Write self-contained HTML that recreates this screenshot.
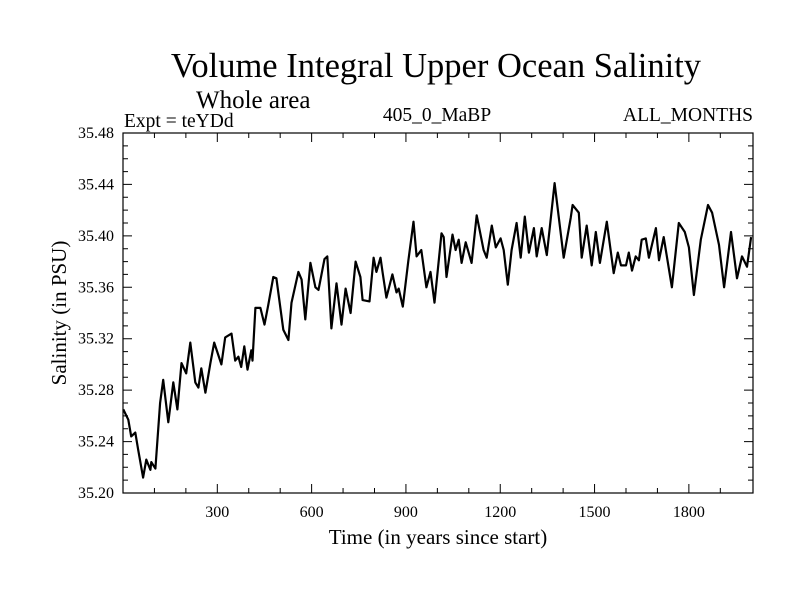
<!DOCTYPE html>
<html><head><meta charset="utf-8"><style>
body{margin:0;background:#fff}
svg text{font-family:"Liberation Serif",serif;fill:#000}
</style></head><body>
<svg id="chart" width="800" height="600" viewBox="0 0 800 600" xmlns="http://www.w3.org/2000/svg">
<rect width="800" height="600" fill="#fff"/>
<text x="436" y="77" font-size="34.5" text-anchor="middle">Volume Integral Upper Ocean Salinity</text>
<text x="196" y="108" font-size="25">Whole area</text>
<text x="124" y="127" font-size="19.5">Expt = teYDd</text>
<text x="437" y="121" font-size="19.5" text-anchor="middle">405_0_MaBP</text>
<text x="753" y="121" font-size="19.5" text-anchor="end">ALL_MONTHS</text>
<text x="438" y="544" font-size="21" text-anchor="middle">Time (in years since start)</text>
<text x="0" y="0" font-size="21" text-anchor="middle" transform="translate(66,313) rotate(-90)">Salinity (in PSU)</text>
<g id="ticks"></g>
<g id="labels"></g>
<path id="series" fill="none" stroke="#000" stroke-width="2.2" stroke-linejoin="round"/>
<rect x="123" y="133" width="630" height="360" fill="none" stroke="#000" stroke-width="1.2"/>
</svg>
<script>
const years=[1,17,26,39,48,64,74,87,90,103,118,128,144,160,173,186,201,214,230,240,249,262,278,290,313,325,345,357,367,376,386,396,408,412,421,437,450,462,478,488,510,526,536,558,568,580,596,612,622,641,650,663,679,695,708,724,740,755,762,784,797,806,819,826,838,857,870,877,890,908,924,934,949,965,978,991,1013,1020,1029,1048,1058,1068,1077,1090,1109,1125,1147,1157,1173,1186,1201,1211,1224,1236,1252,1265,1278,1291,1307,1316,1332,1348,1373,1386,1402,1424,1430,1450,1459,1475,1491,1504,1517,1539,1561,1574,1584,1600,1609,1619,1631,1641,1650,1663,1673,1695,1705,1720,1746,1768,1787,1800,1816,1838,1861,1874,1896,1912,1934,1953,1969,1985,1998];
const salinity=[35.265,35.257,35.244,35.247,35.234,35.212,35.226,35.218,35.224,35.219,35.270,35.288,35.255,35.286,35.265,35.301,35.293,35.317,35.286,35.282,35.297,35.278,35.301,35.317,35.300,35.321,35.324,35.303,35.306,35.298,35.314,35.296,35.311,35.303,35.344,35.344,35.331,35.346,35.368,35.367,35.327,35.319,35.348,35.372,35.366,35.335,35.379,35.360,35.358,35.382,35.384,35.328,35.363,35.331,35.359,35.340,35.380,35.368,35.350,35.349,35.383,35.372,35.383,35.371,35.352,35.370,35.356,35.359,35.345,35.381,35.411,35.384,35.389,35.360,35.372,35.348,35.402,35.399,35.368,35.401,35.389,35.397,35.379,35.395,35.379,35.416,35.389,35.383,35.408,35.391,35.398,35.389,35.362,35.389,35.410,35.383,35.415,35.387,35.406,35.384,35.406,35.385,35.441,35.415,35.383,35.414,35.424,35.418,35.383,35.408,35.377,35.403,35.379,35.411,35.371,35.387,35.377,35.377,35.387,35.373,35.384,35.381,35.397,35.398,35.383,35.406,35.381,35.399,35.360,35.410,35.403,35.391,35.354,35.397,35.424,35.418,35.393,35.360,35.403,35.367,35.384,35.376,35.399];
const xTickLabels=[300,600,900,1200,1500,1800];
const yTickLabels=["35.20","35.24","35.28","35.32","35.36","35.40","35.44","35.48"];
const X0=123,X1=753,Y0=493,Y1=133,XMIN=0,XMAX=2004,YMIN=35.20,YMAX=35.48;
function sx(v){return X0+(v-XMIN)/(XMAX-XMIN)*(X1-X0);}
function sy(v){return Y0-(v-YMIN)/(YMAX-YMIN)*(Y0-Y1);}
const NS="http://www.w3.org/2000/svg";
const tg=document.getElementById('ticks'),lg=document.getElementById('labels');
let d="";
function ln(x1,y1,x2,y2){d+="M"+x1+" "+y1+"L"+x2+" "+y2;}
for(let t=100;t<2000;t+=100){const x=sx(t);const L=(t%300===0)?9:5;ln(x,Y0,x,Y0-L);ln(x,Y1,x,Y1+L);}
for(let i=1;i<28;i++){const v=YMIN+i*0.01;const y=sy(v);const L=(i%4===0)?9:5;ln(X0,y,X0+L,y);ln(X1,y,X1-L,y);}
const tp=document.createElementNS(NS,'path');
tp.setAttribute('d',d);tp.setAttribute('stroke','#000');tp.setAttribute('stroke-width','1');


tg.appendChild(tp);
xTickLabels.forEach(v=>{const t=document.createElementNS(NS,'text');
t.setAttribute('x',sx(v));t.setAttribute('y',Y0+24);t.setAttribute('font-size','16');t.setAttribute('text-anchor','middle');t.textContent=v;


lg.appendChild(t);});
yTickLabels.forEach(v=>{const t=document.createElementNS(NS,'text');
t.setAttribute('x',X0-9);t.setAttribute('y',sy(parseFloat(v))+5);t.setAttribute('font-size','16');t.setAttribute('text-anchor','end');t.textContent=v;


lg.appendChild(t);});
let p="";years.forEach((yr,i)=>{p+=(i?"L":"M")+sx(yr).toFixed(1)+" "+sy(salinity[i]).toFixed(1);});
document.getElementById('series').setAttribute('d',p);
</script>
</body></html>
